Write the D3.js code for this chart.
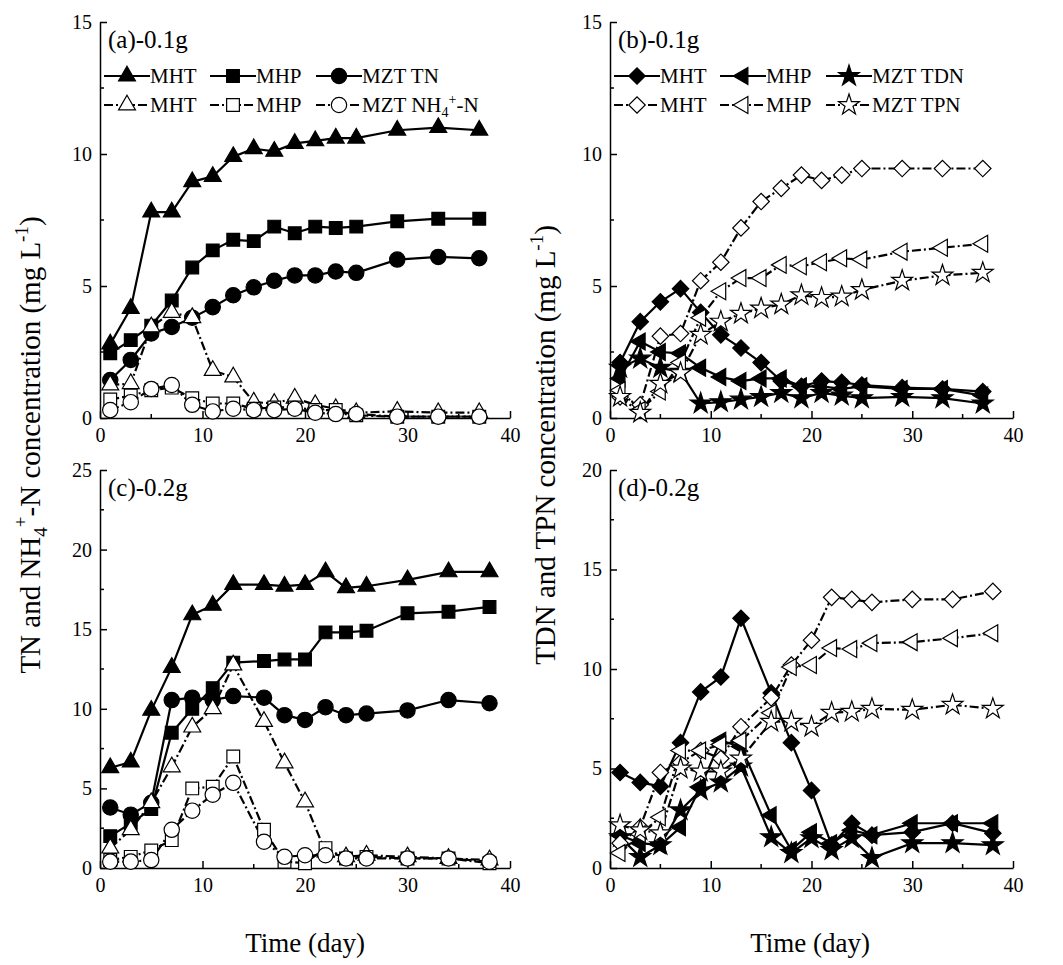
<!DOCTYPE html>
<html><head><meta charset="utf-8">
<script src="https://cdn.jsdelivr.net/npm/d3@7/dist/d3.min.js"></script>
<style>body{margin:0;background:#fff}text{font-family:"Liberation Serif","Times New Roman",serif}</style>
</head><body><svg id="c" width="1063" height="965"></svg>
<script>
const daysAB=[1,3,5,7,9,11,13,15,17,19,21,23,25,29,33,37];
const daysCD=[1,3,5,7,9,11,13,16,18,20,22,24,26,30,34,38];
// (a)
const aMHT_TN=[2.8,4.15,7.8,7.8,8.95,9.15,9.9,10.2,10.1,10.4,10.5,10.6,10.6,10.9,11.0,10.9];
const aMHP_TN=[2.45,2.95,3.5,4.45,5.7,6.35,6.75,6.7,7.25,7.0,7.25,7.2,7.25,7.45,7.55,7.55];
const aMZT_TN=[1.44,2.2,3.2,3.45,3.8,4.2,4.65,4.95,5.2,5.4,5.4,5.55,5.5,6.0,6.1,6.05];
const aMHT_NH=[1.25,1.3,3.45,4.0,3.8,1.8,1.55,0.6,0.55,0.75,0.5,0.35,0.2,0.25,0.2,0.2];
const aMHP_NH=[0.7,0.85,1.05,1.15,0.75,0.55,0.55,0.35,0.4,0.4,0.3,0.3,0.1,0.05,0.05,0.05];
const aMZT_NH=[0.3,0.6,1.1,1.25,0.5,0.25,0.35,0.3,0.3,0.35,0.2,0.15,0.15,0.05,0.05,0.05];
// (b)
const bMHT_TDN=[2.1,3.65,4.4,4.9,4.0,3.15,2.65,2.1,1.4,1.2,1.4,1.35,1.25,1.15,1.1,1.0];
const bMHP_TDN=[1.5,2.9,2.5,2.45,1.9,1.55,1.4,1.5,1.5,1.2,1.2,1.1,1.2,1.1,1.1,0.85];
const bMZT_TDN=[1.9,2.25,1.9,1.75,0.55,0.6,0.7,0.8,0.95,0.75,0.95,0.85,0.75,0.8,0.75,0.55];
const bMHT_TPN=[0.8,0.5,3.1,3.2,5.2,5.9,7.2,8.2,8.7,9.2,9.0,9.2,9.45,9.45,9.45,9.45];
const bMHP_TPN=[1.05,0.3,1.0,2.1,3.8,4.8,5.3,5.3,5.8,5.75,5.9,6.05,6.0,6.3,6.45,6.6];
const bMZT_TPN=[0.8,0.2,1.3,1.7,3.15,3.65,3.95,4.15,4.3,4.65,4.55,4.6,4.85,5.2,5.4,5.5];
// (c)
const cMHT_TN=[6.3,6.65,9.9,12.6,15.9,16.5,17.8,17.8,17.7,17.8,18.6,17.6,17.7,18.1,18.6,18.6];
const cMHP_TN=[2.0,2.8,3.7,8.5,10.0,11.3,12.9,13.0,13.1,13.1,14.8,14.8,14.9,16.0,16.1,16.4];
const cMZT_TN=[3.8,3.35,4.1,10.55,10.7,10.55,10.8,10.7,9.6,9.3,10.1,9.6,9.7,9.9,10.55,10.35];
const cMHT_NH=[1.25,2.4,4.1,6.35,8.85,10.0,12.75,9.2,6.6,4.15,1.0,0.7,0.8,0.7,0.6,0.5];
const cMHP_NH=[0.5,0.7,1.1,1.75,5.0,5.1,7.0,2.4,0.4,0.3,1.25,0.6,0.7,0.6,0.6,0.3];
const cMZT_NH=[0.4,0.4,0.5,2.4,3.6,4.6,5.35,1.65,0.7,0.8,0.8,0.6,0.6,0.6,0.6,0.4];
// (d)
const dMHT_TDN=[4.8,4.3,4.1,6.3,8.85,9.6,12.55,8.8,6.3,3.9,1.15,2.25,1.65,1.8,2.25,1.75];
const dMHP_TDN=[1.65,1.25,1.15,2.05,4.1,6.4,6.1,2.65,0.9,1.8,1.25,1.9,1.65,2.25,2.25,2.25];
const dMZT_TDN=[1.55,0.55,1.15,2.9,3.9,4.3,5.1,1.55,0.75,1.5,0.9,1.5,0.5,1.25,1.25,1.15];
const dMHT_TPN=[1.25,2.05,4.8,5.3,5.9,5.5,7.1,8.55,10.2,11.45,13.6,13.5,13.35,13.5,13.5,13.9];
const dMHP_TPN=[0.75,1.7,2.55,5.9,5.9,6.2,6.4,7.8,10.1,10.2,11.05,11.0,11.3,11.35,11.55,11.8];
const dMZT_TPN=[2.15,1.9,1.75,5.0,4.85,4.85,5.5,7.35,7.35,7.1,7.8,7.85,8.0,7.95,8.2,8.0];

const svg=d3.select("#c");
const S=15;
const sym={
 tri:d3.symbol(d3.symbolTriangle,S*S*0.55),
 sq:d3.symbol(d3.symbolSquare,S*S*0.72),
 circ:d3.symbol(d3.symbolCircle,S*S*0.82),
 dia:d3.symbol(d3.symbolSquare,S*S*0.6),
 star:d3.symbol(d3.symbolStar,S*S*0.6),
 ltri:d3.symbol(d3.symbolTriangle,S*S*0.55)
};
function marker(g,type,x,y,filled){
  let rot=0;
  if(type==="dia")rot=45; if(type==="ltri")rot=-90;
  g.append("path").attr("d",sym[type]()).attr("transform",`translate(${x},${y}) rotate(${rot})`)
   .attr("fill",filled?"#000":"#fff").attr("stroke","#000").attr("stroke-width",1.2);
}
function panel(o){
  const x=d3.scaleLinear().domain([0,40]).range([o.x0,o.x1]);
  const y=d3.scaleLinear().domain([0,o.ymax]).range([o.y0,o.y1]);
  const g=svg.append("g");
  const xa=d3.axisBottom(x).tickValues([0,10,20,30,40]).tickSize(-7).tickPadding(10).tickSizeOuter(0);
  const gx=g.append("g").attr("transform",`translate(0,${o.y0})`).call(xa);
  const ya=d3.axisLeft(y).tickValues(d3.range(0,o.ymax+0.1,5)).tickSize(-7).tickPadding(8).tickSizeOuter(0);
  const gy=g.append("g").attr("transform",`translate(${o.x0},0)`).call(ya);
  [gx,gy].forEach(a=>{a.selectAll("text").attr("font-size",20).attr("fill","#000");a.select(".domain").attr("stroke-width",1.5);a.selectAll("line").attr("stroke-width",1.5);});
  [5,15,25,35].forEach(v=>g.append("line").attr("x1",x(v)).attr("x2",x(v)).attr("y1",o.y0).attr("y2",o.y0-4).attr("stroke","#000").attr("stroke-width",1.5));
  d3.range(2.5,o.ymax,5).forEach(v=>g.append("line").attr("x1",o.x0).attr("x2",o.x0+4).attr("y1",y(v)).attr("y2",y(v)).attr("stroke","#000").attr("stroke-width",1.5));
  g.append("text").attr("x",o.x0+8).attr("y",o.y1+26).attr("font-size",25).text(o.label);
  const line=d3.line().x((d,i)=>x(o.days[i])).y(d=>y(d));
  o.series.forEach(s=>{
    g.append("path").attr("d",line(s.v)).attr("fill","none").attr("stroke","#000").attr("stroke-width",2.2)
     .attr("stroke-dasharray",s.f?null:"9,3,2,3");
  });
  o.series.forEach(s=>s.v.forEach((v,i)=>marker(g,s.m,x(o.days[i]),y(v),s.f)));
  if(o.legend){
    o.legend.forEach((row,ri)=>{
      const ly=o.y1+54+ri*29;
      row.items.forEach((it,k)=>{
        const lx=o.x0+4+k*o.lstep;
        g.append("line").attr("x1",lx).attr("x2",lx+46).attr("y1",ly).attr("y2",ly).attr("stroke","#000").attr("stroke-width",2.2).attr("stroke-dasharray",it.f?null:"9,3,2,3");
        marker(g,it.m,lx+23,ly,it.f);
        g.append("text").attr("x",lx+46).attr("y",ly+7).attr("font-size",21).text(it.t);
      });
    });
  }
  return g;
}
const pa=panel({x0:100,x1:510,y0:418,y1:22,ymax:15,days:daysAB,label:"(a)-0.1g",lstep:106,
 series:[{v:aMHT_TN,m:"tri",f:1},{v:aMHP_TN,m:"sq",f:1},{v:aMZT_TN,m:"circ",f:1},{v:aMHT_NH,m:"tri",f:0},{v:aMHP_NH,m:"sq",f:0},{v:aMZT_NH,m:"circ",f:0}],
 legend:[{items:[{m:"tri",f:1,t:"MHT"},{m:"sq",f:1,t:"MHP"},{m:"circ",f:1,t:"MZT TN"}]},{items:[{m:"tri",f:0,t:"MHT"},{m:"sq",f:0,t:"MHP"},{m:"circ",f:0,t:"MZT NH"}]}]});
pa.selectAll("text").filter(function(){return d3.select(this).text()==="MZT NH";}).each(function(){
  const t=d3.select(this);t.append("tspan").attr("font-size",14).attr("dy",5).text("4");t.append("tspan").attr("font-size",14).attr("dy",-13).text("+");t.append("tspan").attr("dy",8).text("-N");});
panel({x0:610,x1:1013,y0:418,y1:22,ymax:15,days:daysAB,label:"(b)-0.1g",lstep:106,
 series:[{v:bMHT_TDN,m:"dia",f:1},{v:bMHP_TDN,m:"ltri",f:1},{v:bMZT_TDN,m:"star",f:1},{v:bMHT_TPN,m:"dia",f:0},{v:bMHP_TPN,m:"ltri",f:0},{v:bMZT_TPN,m:"star",f:0}],
 legend:[{items:[{m:"dia",f:1,t:"MHT"},{m:"ltri",f:1,t:"MHP"},{m:"star",f:1,t:"MZT TDN"}]},{items:[{m:"dia",f:0,t:"MHT"},{m:"ltri",f:0,t:"MHP"},{m:"star",f:0,t:"MZT TPN"}]}]});
panel({x0:100,x1:510,y0:868,y1:470,ymax:25,days:daysCD,label:"(c)-0.2g",
 series:[{v:cMHT_TN,m:"tri",f:1},{v:cMHP_TN,m:"sq",f:1},{v:cMZT_TN,m:"circ",f:1},{v:cMHT_NH,m:"tri",f:0},{v:cMHP_NH,m:"sq",f:0},{v:cMZT_NH,m:"circ",f:0}]});
panel({x0:610,x1:1013,y0:868,y1:470,ymax:20,days:daysCD,label:"(d)-0.2g",
 series:[{v:dMHT_TDN,m:"dia",f:1},{v:dMHP_TDN,m:"ltri",f:1},{v:dMZT_TDN,m:"star",f:1},{v:dMHT_TPN,m:"dia",f:0},{v:dMHP_TPN,m:"ltri",f:0},{v:dMZT_TPN,m:"star",f:0}]});
svg.append("text").attr("x",305).attr("y",952).attr("text-anchor","middle").attr("font-size",27).text("Time (day)");
svg.append("text").attr("x",810).attr("y",952).attr("text-anchor","middle").attr("font-size",27).text("Time (day)");
const t1=svg.append("text").attr("transform","translate(40,445) rotate(-90)").attr("text-anchor","middle").attr("font-size",29);
t1.append("tspan").text("TN and NH");t1.append("tspan").attr("font-size",19).attr("dy",7).text("4");t1.append("tspan").attr("font-size",19).attr("dy",-20).text("+");
t1.append("tspan").attr("dy",13).text("-N concentration (mg L");t1.append("tspan").attr("font-size",19).attr("dy",-12).text("-1");t1.append("tspan").attr("dy",12).text(")");
const t2=svg.append("text").attr("transform","translate(555,445) rotate(-90)").attr("text-anchor","middle").attr("font-size",29);
t2.append("tspan").text("TDN and TPN concentration (mg L");t2.append("tspan").attr("font-size",19).attr("dy",-12).text("-1");t2.append("tspan").attr("dy",12).text(")");
</script></body></html>
